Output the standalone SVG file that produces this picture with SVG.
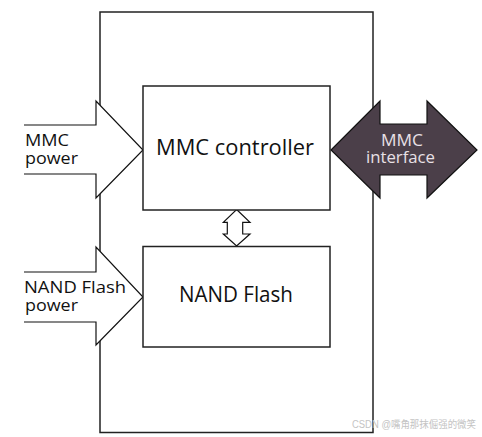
<svg xmlns="http://www.w3.org/2000/svg" width="482" height="437" viewBox="0 0 482 437">
<style>
.box{fill:#fff;stroke:#222;stroke-width:1.5}
.arr{fill:#fff;stroke:#111;stroke-width:1.2;stroke-linejoin:miter}
.lbl{font-family:"Open Sans","Noto Sans","DejaVu Sans",sans-serif;fill:#111}
.side{font-size:16.5px}
.big{font-size:21.5px}
.inv{font-size:16px;fill:#e8e0e6}
</style>
<rect width="482" height="437" fill="#fff"/>
<g id="card"><rect class="box" x="100" y="12" width="273" height="420.5"/></g>
<g id="connectors">
<path class="arr" d="M24,125 H96 V101 L143,150 L96,198 V174 H24"/>
<path class="arr" d="M24,272 H96 V247 L143,297 L96,345 V322 H24"/>
<path class="arr" d="M236.6,209.5 L250,222.3 H242.7 V234 H250 L236.6,246 L223.3,234 H227.3 V222.3 H223.3 Z"/>
<path d="M331,150 L380,101 V124 H427 V101 L477,150 L427,198 V175 H380 V198 Z" fill="#4b3f49" stroke="#111" stroke-width="1.2"/>
</g>
<g id="mmc-power-label"><text class="lbl side" x="25" y="146" textLength="44" lengthAdjust="spacingAndGlyphs">MMC</text><text class="lbl side" x="25" y="164" textLength="53" lengthAdjust="spacingAndGlyphs">power</text></g>
<g id="nand-power-label"><text class="lbl side" x="24" y="293" textLength="102" lengthAdjust="spacingAndGlyphs">NAND Flash</text><text class="lbl side" x="25" y="311" textLength="53" lengthAdjust="spacingAndGlyphs">power</text></g>
<g id="mmc-interface-label"><text class="lbl inv" x="381" y="146" textLength="42" lengthAdjust="spacingAndGlyphs">MMC</text><text class="lbl inv" x="366" y="163" textLength="69" lengthAdjust="spacingAndGlyphs">interface</text></g>
<g id="mmc-controller"><rect class="box" x="143" y="86" width="187" height="124"/><text class="lbl big" x="156" y="155" textLength="158" lengthAdjust="spacingAndGlyphs">MMC controller</text></g>
<g id="nand-flash"><rect class="box" x="143" y="246.5" width="187" height="100.5"/><text class="lbl big" x="179" y="302" textLength="114" lengthAdjust="spacingAndGlyphs">NAND Flash</text></g>
<text x="352" y="428" font-size="10" textLength="124" lengthAdjust="spacingAndGlyphs" font-family="'Liberation Sans','Noto Sans CJK SC',sans-serif" fill="#c4c4c4">CSDN @嘴角那抹倔强的微笑</text>
</svg>
